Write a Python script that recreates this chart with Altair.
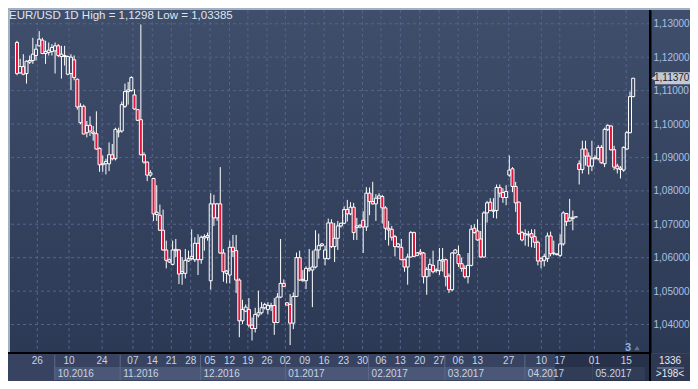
import altair as alt
import pandas as pd

# ---------------- data (EUR/USD daily candles) ----------------
opens = [1.1244,1.1153,1.1172,1.1151,1.1185,1.1190,1.1205,1.1234,1.1251,1.1211,
         1.1214,1.1217,1.1219,1.1234,1.1202,1.1202,1.1149,1.1151,1.1192,1.1134,
         1.1004,1.1053,1.0974,1.0996,1.0976,1.0971,1.0927,1.0878,1.0881,1.0881,
         1.0908,1.0896,1.0976,1.0979,1.1053,1.1097,1.1100,1.1087,1.1043,1.1013,
         1.0908,1.0886,1.0847,1.0837,1.0729,1.0727,1.0682,1.0623,1.0587,1.0580,
         1.0621,1.0623,1.0553,1.0553,1.0590,1.0597,1.0594,1.0643,1.0594,1.0659,
         1.0661,1.0531,1.0761,1.0719,1.0761,1.0614,1.0553,1.0548,1.0631,1.0621,
         1.0533,1.0411,1.0440,1.0445,1.0398,1.0388,1.0428,1.0435,1.0450,1.0445,
         1.0453,1.0457,1.0406,1.0482,1.0523,1.0465,1.0460,1.0404,1.0484,1.0600,
         1.0531,1.0531,1.0568,1.0563,1.0572,1.0623,1.0636,1.0597,1.0597,1.0704,
         1.0633,1.0658,1.0695,1.0703,1.0744,1.0731,1.0751,1.0690,1.0692,1.0712,
         1.0692,1.0793,1.0768,1.0761,1.0778,1.0783,1.0749,1.0688,1.0685,1.0663,
         1.0633,1.0631,1.0594,1.0572,1.0602,1.0675,1.0607,1.0617,1.0614,1.0543,
         1.0565,1.0577,1.0561,1.0561,1.0590,1.0594,1.0545,1.0504,1.0614,1.0609,
         1.0582,1.0568,1.0543,1.0577,1.0688,1.0680,1.0656,1.0602,1.0734,1.0766,
         1.0739,1.0741,1.0810,1.0795,1.0780,1.0847,1.0866,1.0813,1.0766,1.0675,
         1.0668,1.0668,1.0672,1.0663,1.0646,1.0597,1.0592,1.0597,1.0665,1.0612,
         1.0611,1.0607,1.0641,1.0732,1.0710,1.0717,1.0722,1.0881,1.0864,1.0925,
         1.0904,1.0874,1.0896,1.0896,1.0930,1.0881,1.0984,1.0994,1.0923,1.0874,
         1.0864,1.0862,1.0925,1.0974,1.1082]
highs = [1.1249,1.1195,1.1209,1.1190,1.1205,1.1258,1.1239,1.1278,1.1258,1.1249,
         1.1244,1.1239,1.1244,1.1239,1.1234,1.1234,1.1205,1.1209,1.1205,1.1136,
         1.1062,1.1058,1.1009,1.1023,1.0994,1.1038,1.0930,1.0906,1.0896,1.0945,
         1.0940,1.0989,1.0989,1.1067,1.1121,1.1126,1.1143,1.1104,1.1045,1.1298,
         1.0915,1.0888,1.0862,1.0839,1.0817,1.0759,1.0744,1.0651,1.0597,1.0651,
         1.0656,1.0626,1.0602,1.0626,1.0621,1.0685,1.0661,1.0670,1.0666,1.0670,
         1.0675,1.0793,1.0788,1.0764,1.0871,1.0626,1.0563,1.0651,1.0668,1.0668,
         1.0538,1.0474,1.0460,1.0479,1.0421,1.0450,1.0501,1.0467,1.0465,1.0467,
         1.0465,1.0479,1.0494,1.0656,1.0535,1.0467,1.0491,1.0496,1.0615,1.0621,
         1.0563,1.0574,1.0626,1.0621,1.0682,1.0672,1.0644,1.0636,1.0717,1.0715,
         1.0704,1.0710,1.0705,1.0754,1.0773,1.0766,1.0764,1.0719,1.0700,1.0739,
         1.0811,1.0810,1.0827,1.0790,1.0793,1.0788,1.0754,1.0710,1.0695,1.0668,
         1.0644,1.0656,1.0597,1.0612,1.0680,1.0678,1.0617,1.0626,1.0617,1.0572,
         1.0597,1.0621,1.0568,1.0629,1.0629,1.0597,1.0553,1.0617,1.0626,1.0636,
         1.0600,1.0577,1.0614,1.0698,1.0700,1.0715,1.0680,1.0739,1.0770,1.0778,
         1.0778,1.0819,1.0819,1.0808,1.0817,1.0906,1.0871,1.0827,1.0768,1.0680,
         1.0685,1.0680,1.0685,1.0685,1.0651,1.0602,1.0612,1.0675,1.0678,1.0651,
         1.0613,1.0670,1.0739,1.0734,1.0776,1.0741,1.0722,1.0891,1.0950,1.0950,
         1.0915,1.0950,1.0906,1.0937,1.0937,1.0989,1.0999,1.0996,1.0935,1.0881,
         1.0874,1.0933,1.0979,1.1097,1.1138]
lows = [1.1146,1.1151,1.1146,1.1121,1.1180,1.1180,1.1190,1.1232,1.1209,1.1180,
        1.1205,1.1205,1.1151,1.1200,1.1136,1.1175,1.1146,1.1102,1.1131,1.1043,
        1.0999,1.0969,1.0960,1.0964,1.0950,1.0923,1.0857,1.0857,1.0849,1.0859,
        1.0891,1.0891,1.0960,1.0974,1.1048,1.1058,1.1097,1.1043,1.1009,1.0906,
        1.0881,1.0829,1.0842,1.0710,1.0710,1.0680,1.0621,1.0568,1.0584,1.0577,
        1.0602,1.0521,1.0519,1.0538,1.0587,1.0592,1.0587,1.0548,1.0582,1.0621,
        1.0651,1.0504,1.0695,1.0710,1.0612,1.0528,1.0523,1.0523,1.0602,1.0494,
        1.0362,1.0401,1.0437,1.0391,1.0352,1.0376,1.0421,1.0430,1.0445,1.0430,
        1.0440,1.0369,1.0404,1.0479,1.0512,1.0458,1.03385,1.0386,1.0482,1.0531,
        1.0528,1.0506,1.0558,1.0452,1.0568,1.0597,1.0633,1.0577,1.0594,1.0629,
        1.0587,1.0623,1.0690,1.0700,1.0708,1.0727,1.0653,1.0653,1.0688,1.0614,
        1.0680,1.0727,1.0759,1.0710,1.0776,1.0702,1.0653,1.0636,1.0651,1.0604,
        1.0629,1.0592,1.0558,1.0519,1.0600,1.0602,1.0604,1.0607,1.0523,1.0489,
        1.0543,1.0553,1.0555,1.0548,1.0558,1.0514,1.0494,1.0499,1.0612,1.0572,
        1.0558,1.0538,1.0523,1.0574,1.0672,1.0651,1.0600,1.0600,1.0705,1.0739,
        1.0719,1.0717,1.0780,1.0764,1.0757,1.0842,1.0796,1.0737,1.0668,1.0649,
        1.0636,1.0633,1.0631,1.0629,1.0577,1.0568,1.0574,1.0587,1.0604,1.0607,
        1.0607,1.0602,1.0636,1.0695,1.0708,1.0682,1.0722,1.0819,1.0852,1.0876,
        1.0849,1.0859,1.0894,1.0891,1.0881,1.0871,1.0979,1.0920,1.0862,1.0852,
        1.0837,1.0857,1.0923,1.0972,1.1080]
closes = [1.1151,1.1172,1.1149,1.1188,1.1190,1.1209,1.1224,1.1254,1.1211,1.1217,
          1.1221,1.1229,1.1234,1.1205,1.1209,1.1205,1.1202,1.1200,1.1139,1.1051,
          1.1053,1.0970,1.0996,1.0979,1.0972,1.0925,1.0878,1.0881,1.0888,1.0908,
          1.0896,1.0984,1.0979,1.1058,1.1097,1.1102,1.1139,1.1045,1.1011,1.0908,
          1.0886,1.0847,1.0854,1.0731,1.0736,1.0682,1.0623,1.0592,1.0594,1.0623,
          1.0625,1.0551,1.0558,1.0592,1.0597,1.0604,1.0643,1.0594,1.0661,1.0663,
          1.0666,1.0761,1.0719,1.0761,1.0614,1.0558,1.0560,1.0631,1.0619,1.0533,
          1.0411,1.0445,1.0452,1.0398,1.0388,1.0430,1.0435,1.0450,1.0460,1.0457,
          1.0457,1.0406,1.0482,1.0523,1.0514,1.0458,1.0404,1.0484,1.0600,1.0533,
          1.0535,1.0568,1.0563,1.0572,1.0623,1.0636,1.0641,1.0623,1.0704,1.0633,
          1.0658,1.0695,1.0703,1.0744,1.0731,1.0751,1.0675,1.0695,1.0697,1.0692,
          1.0793,1.0768,1.0761,1.0778,1.0785,1.0749,1.0688,1.0683,1.0661,1.0633,
          1.0641,1.0594,1.0572,1.0602,1.0675,1.0604,1.0614,1.0612,1.0543,1.0565,
          1.0580,1.0558,1.0563,1.0592,1.0594,1.0543,1.0504,1.0614,1.0623,1.0582,
          1.0568,1.0543,1.0577,1.0685,1.0675,1.0653,1.0602,1.0734,1.0764,1.0741,
          1.0742,1.0810,1.0793,1.0780,1.0798,1.0862,1.0813,1.0764,1.0672,1.0653,
          1.0672,1.0670,1.0661,1.0646,1.0590,1.0590,1.0604,1.0665,1.0612,1.0614,
          1.0609,1.0641,1.0734,1.0708,1.0719,1.0721,1.0722,1.0864,1.0925,1.0904,
          1.0874,1.0896,1.0900,1.0930,1.0884,1.0984,1.0996,1.0923,1.0871,1.0866,
          1.0868,1.0930,1.0974,1.1082,1.1137]

# bottom axis: weekly day labels (position = bar index) and month blocks
tick_pos = [6.4, 16.4, 26.8, 36.5, 42.6, 48.6, 54.7, 60.8, 66.9, 72.7, 78.7, 84.5, 90.6,
            96.7, 102.8, 108.8, 114.6, 120.7, 126.8, 132.9, 138.9, 145.0, 154.8, 165.1,
            170.9, 181.8, 191.8]
tick_labels = ["26", "10", "24", "07", "14", "21", "28", "05", "12", "19", "26", "02", "09",
               "16", "23", "30", "06", "13", "20", "27", "06", "13", "27", "10", "17", "01", "15"]
month_start = [11.9, 32.5, 57.8, 84.5, 110.7, 134.7, 159.9, 181.2]
month_end = [32.5, 57.8, 84.5, 110.7, 134.7, 159.9, 181.2, 197.7]
month_labels = ["10.2016", "11.2016", "12.2016", "01.2017", "02.2017", "03.2017", "04.2017", "05.2017"]
price_ticks = [1.04, 1.05, 1.06, 1.07, 1.08, 1.09, 1.10, 1.11, 1.12, 1.13]
last_price = [1.1137]
last_label = ["1,11370"]
title_text = "EUR/USD 1D High = 1,1298 Low = 1,03385"

# ---------------- chart ----------------
W, H = 640, 343          # plot area; whole canvas = 682 x 373 (fits the page with its margin)
RA, BA = 40, 28          # right axis width, bottom axis height
FONT = "Liberation Sans"
FS = 10
GRID = "#56648a"
RED = "#e5133a"

n = len(opens)
df = pd.DataFrame({"i": list(range(n)), "open": opens, "high": highs, "low": lows, "close": closes})
df["top"] = df[["open", "close"]].max(axis=1)
df["bot"] = df[["open", "close"]].min(axis=1)

ticks_df = pd.DataFrame({"pos": tick_pos, "lab": tick_labels})
month_df = pd.DataFrame({"start": month_start, "end": month_end, "lab": month_labels})
price_df = pd.DataFrame({"p": price_ticks})
tag_df = pd.DataFrame({"p": last_price, "lab": last_label})
one = pd.DataFrame({"a": [0]})

xs = alt.Scale(domain=[-0.62, 197.72], nice=False, zero=False)
ys = alt.Scale(domain=[1.03147, 1.13412], nice=False, zero=False)
yaxis = alt.Axis(orient="right", values=price_ticks,
                 labelExpr="replace(format(datum.value, '.5f'), '.', ',')",
                 grid=False, ticks=False, domain=True, domainColor="#000000", domainWidth=2,
                 labelColor="#a9c1e3", labelFontSize=FS, labelFont=FONT, labelPadding=3,
                 title=None, zindex=2)

def X(field):
    return alt.X(field, scale=xs, axis=None)

def Y(field):
    return alt.Y(field, scale=ys, axis=yaxis)

grad = alt.Gradient(gradient="linear",
                    stops=[alt.GradientStop(color="#3f4e6b", offset=0),
                           alt.GradientStop(color="#2c3955", offset=1)],
                    x1=0, x2=0, y1=0, y2=1)

bg = alt.Chart(one).mark_rect(fill=grad).encode(
    x=alt.value(0), x2=alt.value(W + RA), y=alt.value(0), y2=alt.value(H))

hgrid = alt.Chart(price_df).mark_rule(color=GRID, strokeDash=[3, 3], strokeWidth=1).encode(y=Y("p:Q"))
vgrid = alt.Chart(ticks_df).mark_rule(color=GRID, strokeDash=[3, 3], strokeWidth=1).encode(x=X("pos:Q"))

wick_up = alt.Chart(df).mark_rule(color="#ffffff", strokeWidth=1).encode(
    x=X("i:Q"), y=Y("high:Q"), y2="top:Q")
wick_dn = alt.Chart(df).mark_rule(color="#ffffff", strokeWidth=1).encode(
    x=X("i:Q"), y=Y("bot:Q"), y2="low:Q")
body = alt.Chart(df).mark_bar(size=3, stroke="#ffffff", strokeWidth=1).encode(
    x=X("i:Q"), y=Y("top:Q"), y2="bot:Q",
    fill=alt.condition("datum.close < datum.open", alt.value(RED), alt.value("transparent")))

title = alt.Chart(one).mark_text(align="left", baseline="top", font=FONT, fontSize=11.5,
                                 color="#dfe5ef").encode(
    x=alt.value(-1), y=alt.value(0), text=alt.value(title_text))

# bottom axis area
bottom_bg = alt.Chart(one).mark_rect(fill="#374360").encode(
    x=alt.value(-2), x2=alt.value(W + RA), y=alt.value(H), y2=alt.value(H + BA))
month_box = alt.Chart(month_df).mark_rect(fill="#4a5776").encode(
    x=X("start:Q"), x2="end:Q", y=alt.value(H + 14), y2=alt.value(H + 27))
month_sep = alt.Chart(month_df).mark_rule(color="#5d6a88", strokeWidth=1).encode(
    x=X("start:Q"), y=alt.value(H + 2), y2=alt.value(H + 27))
day_text = alt.Chart(ticks_df).mark_text(font=FONT, fontSize=FS, color="#c9d3e4",
                                          baseline="middle").encode(
    x=X("pos:Q"), y=alt.value(H + 8), text="lab:N")
month_text = alt.Chart(month_df).mark_text(font=FONT, fontSize=FS, color="#c9d3e4",
                                            baseline="middle", align="left", dx=3).encode(
    x=X("start:Q"), y=alt.value(H + 21), text="lab:N")
overlay = alt.Chart(one).mark_rect(fill="#141c30", opacity=0.45).encode(
    x=alt.value(545), x2=alt.value(W), y=alt.value(H + 1), y2=alt.value(H + BA))
hline = alt.Chart(one).mark_rect(fill="#000000").encode(
    x=alt.value(-2), x2=alt.value(W + 1), y=alt.value(H - 1), y2=alt.value(H + 1))
vline = alt.Chart(one).mark_rect(fill="#000000").encode(
    x=alt.value(W - 1), x2=alt.value(W + 1), y=alt.value(0), y2=alt.value(H + BA))
corner = alt.Chart(one).mark_rect(fill="#2e3853").encode(
    x=alt.value(W + 1), x2=alt.value(W + RA), y=alt.value(H + 1), y2=alt.value(H + BA))
corner_sep = alt.Chart(one).mark_rule(color="#8d97ab").encode(
    x=alt.value(W + 7), x2=alt.value(W + 34), y=alt.value(H + 15))
corner_t1 = alt.Chart(one).mark_text(font=FONT, fontSize=FS, color="#e6ebf3").encode(
    x=alt.value(W + 20), y=alt.value(H + 8), text=alt.value("1336"))
corner_t2 = alt.Chart(one).mark_text(font=FONT, fontSize=FS, color="#e6ebf3").encode(
    x=alt.value(W + 20), y=alt.value(H + 21), text=alt.value(">198<"))
three = alt.Chart(one).mark_text(font=FONT, fontSize=11, fontWeight="bold", color="#8cb4e6").encode(
    x=alt.value(618), y=alt.value(H - 5), text=alt.value("3"))
three_mark = alt.Chart(one).mark_point(shape="triangle-up", filled=True, fill="#66728e",
                                        opacity=1, size=28, strokeWidth=0).encode(
    x=alt.value(627), y=alt.value(H - 5))

# last price tag on the right axis
tag_box = alt.Chart(tag_df).mark_rect(fill="#c5c9d1", yOffset=-6, y2Offset=6).encode(
    x=alt.value(W + 5), x2=alt.value(W + RA), y=Y("p:Q"), y2="p:Q")
tag_arrow = alt.Chart(tag_df).mark_point(shape="triangle-left", filled=True, fill="#c5c9d1",
                                          opacity=1, size=40, strokeWidth=0).encode(
    x=alt.value(W + 4), y=Y("p:Q"))
tag_text = alt.Chart(tag_df).mark_text(font=FONT, fontSize=FS, color="#1b2233",
                                       align="left").encode(
    x=alt.value(W + 4), y=Y("p:Q"), text="lab:N")

chart = alt.layer(
    bg, hgrid, vgrid, wick_up, wick_dn, body, title,
    bottom_bg, month_box, month_sep, overlay, day_text, month_text,
    hline, vline, corner, corner_sep, corner_t1, corner_t2, three, three_mark,
    tag_box, tag_arrow, tag_text
).properties(
    width=W, height=H,
    autosize=alt.AutoSizeParams(type="none"),
    padding={"left": 2, "top": 2, "right": RA, "bottom": BA},
    background="#a3afc3",
).configure_view(stroke=None)

chart.save("out.html", embed_options={"renderer": "svg", "actions": False})
